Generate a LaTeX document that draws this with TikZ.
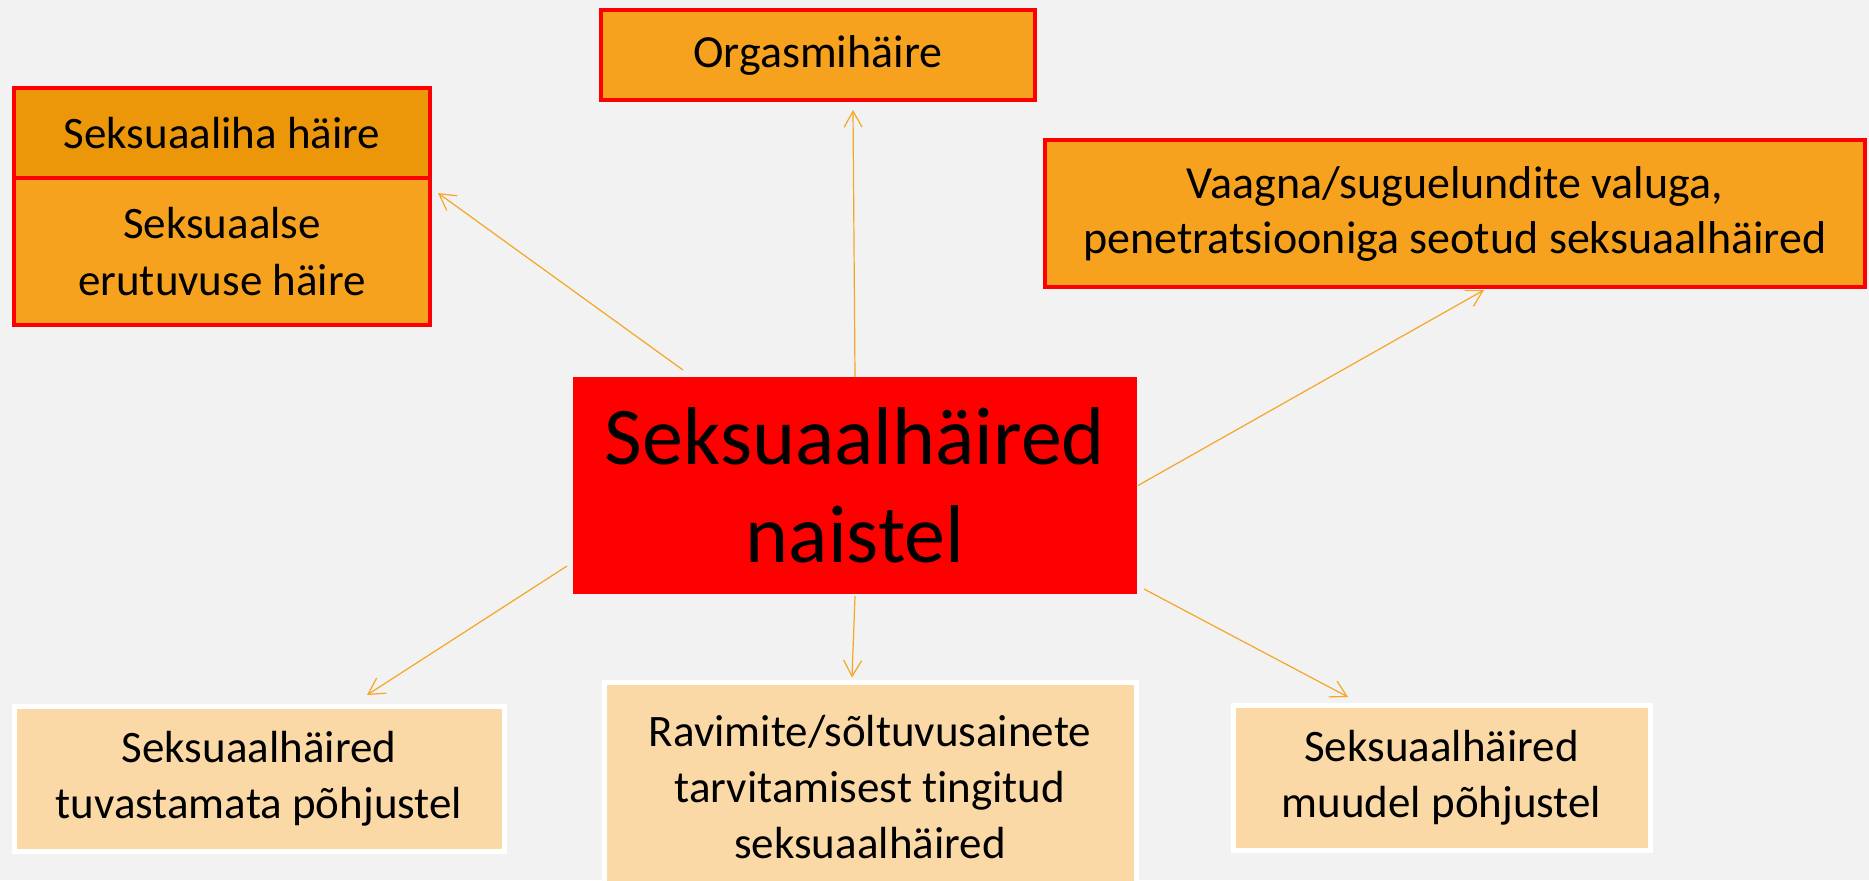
\documentclass[tikz,border=0pt]{standalone}
\usepackage{fontspec}
\setmainfont{Carlito}[Ligatures={CommonOff}]
\usetikzlibrary{arrows.meta}

\definecolor{bggray}{HTML}{F2F2F2}
\definecolor{boxorange}{HTML}{F6A21E}
\definecolor{boxdark}{HTML}{EC9609}
\definecolor{boxlight}{HTML}{FAD9A6}
\definecolor{arrorange}{HTML}{F5A623}

\tikzset{
	redbox/.style={draw=red, line width=2pt, fill=boxorange, align=center,
		inner sep=0pt, outer sep=0pt},
	lightbox/.style={draw=white, line width=2.5pt, fill=boxlight, align=center,
		inner sep=0pt, outer sep=0pt,
		font=\fontsize{22.5}{28}\selectfont},
	arr/.style={->, draw=arrorange, line width=0.6pt}
}

\begin{document}
\begin{tikzpicture}[x=0.5pt,y=-0.5pt,>={Straight Barb[length=8pt,width=9pt]}]
	% Background
	\useasboundingbox (0,0) rectangle (1869,880);
	\fill[bggray] (0,0) rectangle (1869,880);

	% Top boxes
	\node[redbox, fill=boxdark, minimum width=208pt, minimum height=45pt,
		font=\fontsize{22.5}{28}\selectfont] (libido) at (222,133) {Seksuaaliha häire};
	\node[redbox, minimum width=208pt, minimum height=73.5pt,
		font=\fontsize{22.5}{28.5}\selectfont] (arousal) at (222,251.5) {Seksuaalse\\erutuvuse häire};
	\node[redbox, minimum width=217pt, minimum height=45pt,
		font=\fontsize{23}{28}\selectfont] (orgasm) at (818,55) {Orgasmihäire};
	\node[redbox, minimum width=410pt, minimum height=73.5pt,
		font=\fontsize{23}{27.5}\selectfont] (pain) at (1455,213.5)
		{Vaagna/suguelundite valuga,\\penetratsiooniga seotud seksuaalhäired};

	% Main box
	\node[fill=red, inner sep=0pt, outer sep=0pt, align=center,
		minimum width=282pt, minimum height=108.5pt,
		font=\fontsize{41}{49}\selectfont] (main) at (855,485.5) {Seksuaalhäired\\naistel};

	% Bottom boxes
	\node[lightbox, minimum width=245pt, minimum height=72.5pt] (unspec) at (259,778.5)
		{Seksuaalhäired\\tuvastamata põhjustel};
	\node[lightbox, minimum width=266pt, minimum height=105pt] (substance) at (870,787)
		{Ravimite/sõltuvusainete\\tarvitamisest tingitud\\seksuaalhäired};
	\node[lightbox, minimum width=208.5pt, minimum height=72.5pt] (other) at (1441.5,777.5)
		{Seksuaalhäired\\muudel põhjustel};

	% Arrows
	\draw[arr] ([xshift=55pt,yshift=3.5pt]main.north west) -- ([xshift=4pt,yshift=-7.5pt]arousal.north east);
	\draw[arr] (main.north) -- ([xshift=17.5pt,yshift=-5pt]orgasm.south);
	\draw[arr] ([xshift=0.5pt]main.east) -- ([xshift=14.5pt,yshift=-1.5pt]pain.south);
	\draw[arr] ([xshift=-3pt,yshift=14pt]main.south west) -- ([xshift=54pt,yshift=5.5pt]unspec.north);
	\draw[arr] ([yshift=-1pt]main.south) -- ([xshift=-9pt,yshift=2.25pt]substance.north);
	\draw[arr] ([xshift=3.5pt,yshift=2.5pt]main.south east) -- ([xshift=-46.75pt,yshift=4pt]other.north);

\end{tikzpicture}
\end{document}
